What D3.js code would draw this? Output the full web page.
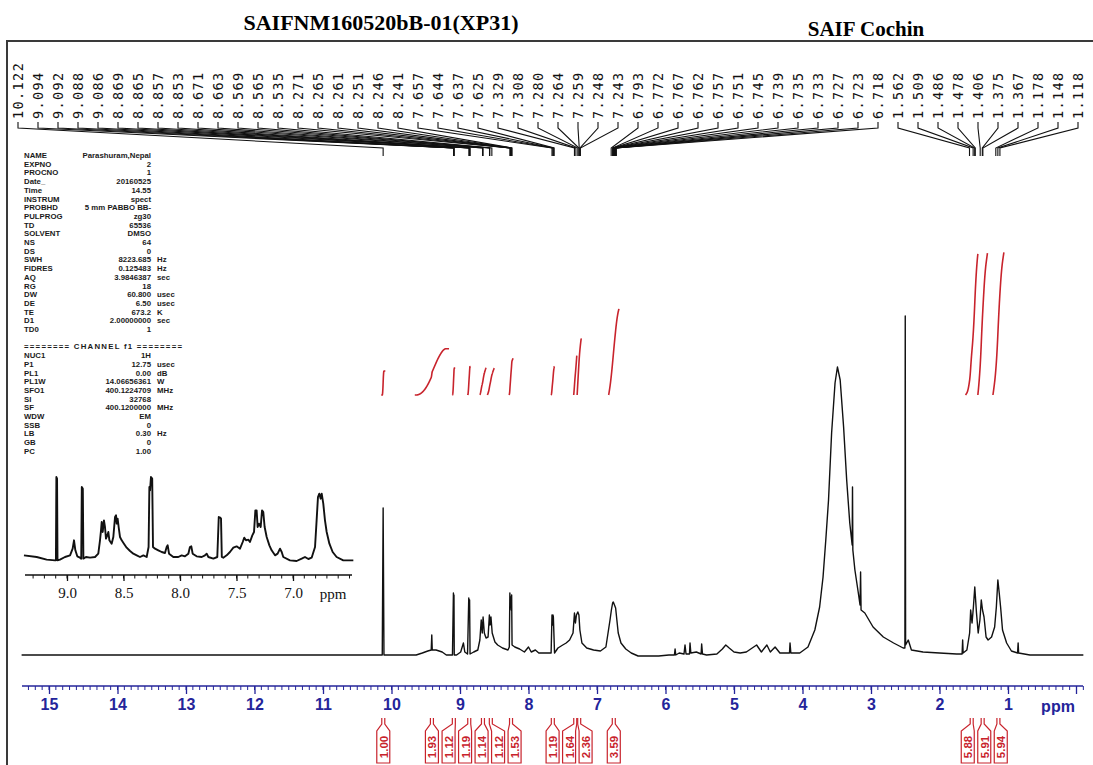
<!DOCTYPE html>
<html><head><meta charset="utf-8">
<script src="https://cdn.jsdelivr.net/npm/d3@7"></script>
<style>body{margin:0;background:#fff}svg{display:block}</style>
</head><body><svg id="c" width="1093" height="765"></svg>
<script>
// ---------------- DATA ----------------
const titleLeft = "SAIFNM160520bB-01(XP31)";
const titleRight = "SAIF Cochin";
const axisTicks = [15,14,13,12,11,10,9,8,7,6,5,4,3,2,1];
const insetTicks = [9.0, 8.5, 8.0, 7.5, 7.0];
const peakLabels = [10.122,9.094,9.092,9.088,9.086,8.869,8.865,8.857,8.853,8.671,8.663,8.569,8.565,8.535,
  8.271,8.265,8.261,8.251,8.246,8.241,7.657,7.644,7.637,7.625,7.329,7.308,7.280,7.264,7.259,7.248,7.243,
  6.793,6.772,6.767,6.762,6.757,6.751,6.745,6.739,6.735,6.733,6.727,6.723,6.718,
  1.562,1.509,1.486,1.478,1.406,1.375,1.367,1.178,1.148,1.118];
const paramKeys = ["NAME","EXPNO","PROCNO","Date_","Time","INSTRUM","PROBHD","PULPROG","TD","SOLVENT","NS","DS",
  "SWH","FIDRES","AQ","RG","DW","DE","TE","D1","TD0"];
const paramValues = ["Parashuram,Nepal","2","1","20160525","14.55","spect","5 mm PABBO BB-","zg30","65536","DMSO","64","0",
  "8223.685","0.125483","3.9846387","18","60.800","6.50","673.2","2.00000000","1"];
const paramUnits = ["","","","","","","","","","","","","Hz","Hz","sec","","usec","usec","K","sec",""];
const channelTitle = "======== CHANNEL f1 ========";
const channelKeys = ["NUC1","P1","PL1","PL1W","SFO1","SI","SF","WDW","SSB","LB","GB","PC"];
const channelValues = ["1H","12.75","0.00","14.06656361","400.1224709","32768","400.1200000","EM","0","0.30","0","1.00"];
const channelUnits = ["","usec","dB","W","MHz","","MHz","","","Hz","",""];
// main spectrum: [ppm, intensity]
const spectrum = [[15.40,0],[10.16,0],[10.135,0],[10.122,147],[10.11,0],[9.64,0],[9.55,2],[9.47,4],[9.42,5],[9.412,20],[9.405,5],
 [9.35,5],[9.26,3],[9.20,0],[9.11,0],[9.096,62],[9.092,50],[9.088,60],[9.084,0],[9.05,0],[8.99,3],[8.95,12],[8.93,3],[8.89,1],
 [8.872,57],[8.866,45],[8.86,55],[8.853,1],[8.80,3],[8.74,5],[8.71,15],[8.69,35],[8.675,22],[8.663,38],[8.645,22],[8.62,17],
 [8.59,18],[8.571,40],[8.562,30],[8.548,38],[8.53,22],[8.49,13],[8.45,10],[8.38,7],[8.30,5],[8.28,8],[8.272,62],[8.266,50],
 [8.26,58],[8.252,45],[8.246,60],[8.24,10],[8.20,8],[8.13,6],[8.06,3],[8.00,8],[7.96,3],[7.90,5],[7.85,2],[7.75,2],[7.67,2],
 [7.657,40],[7.65,30],[7.643,40],[7.637,38],[7.62,2],[7.57,7],[7.50,10],[7.45,12],[7.40,15],[7.35,22],[7.329,42],[7.315,32],
 [7.30,40],[7.28,43],[7.264,40],[7.25,25],[7.22,12],[7.15,7],[7.05,5],[6.95,4],[6.87,8],[6.81,35],[6.79,45],[6.772,52],
 [6.762,53],[6.745,50],[6.728,47],[6.71,35],[6.69,22],[6.65,12],[6.58,6],[6.50,2],[6.40,-1],[6.10,-1],[5.95,0],[5.87,0],
 [5.86,6],[5.85,0],[5.80,2],[5.73,1],[5.715,10],[5.70,1],[5.65,1],[5.642,12],[5.63,2],[5.55,3],[5.48,1],[5.472,11],[5.46,1],
 [5.40,0],[5.25,1],[5.17,6],[5.12,10],[5.07,7],[5.00,3],[4.91,2],[4.82,3],[4.67,10],[4.60,3],[4.52,10],[4.47,3],[4.40,8],
 [4.33,2],[4.19,2],[4.182,12],[4.17,2],[4.04,2],[3.92,8],[3.82,25],[3.75,48],[3.70,78],[3.66,115],[3.62,155],[3.575,222],
 [3.525,272],[3.49,288],[3.45,275],[3.40,228],[3.355,175],[3.31,132],[3.275,110],[3.27,168],[3.265,105],[3.235,85],[3.185,62],
 [3.16,50],[3.152,83],[3.145,45],[3.09,42],[2.97,28],[2.82,18],[2.67,12],[2.53,7],[2.505,7],[2.50,339],[2.495,10],[2.456,15],
 [2.41,5],[2.24,3],[2.00,2],[1.75,1],[1.67,1],[1.662,15],[1.655,2],[1.60,5],[1.56,22],[1.545,45],[1.525,32],[1.505,48],
 [1.485,68],[1.46,42],[1.435,22],[1.41,35],[1.39,55],[1.372,45],[1.35,38],[1.32,18],[1.29,15],[1.24,18],[1.195,28],[1.17,48],
 [1.148,75],[1.128,62],[1.108,48],[1.08,25],[1.02,12],[0.95,4],[0.86,2],[0.852,12],[0.845,2],[0.68,0],[-0.10,0]];
// inset expansion: [ppm, intensity]
const insetSpectrum = [[9.381,5],[9.268,0],[9.180,-8],[9.106,-10],[9.098,-10],[9.094,240],[9.088,235],[9.084,-10],[9.062,-8],
 [9.018,0],[8.973,5],[8.950,25],[8.938,50],[8.926,20],[8.909,2],[8.885,-2],[8.874,-5],[8.869,210],[8.860,205],[8.855,-5],
 [8.832,0],[8.796,-2],[8.752,0],[8.723,10],[8.708,50],[8.699,80],[8.693,105],[8.684,75],[8.673,110],[8.664,90],[8.655,55],
 [8.643,65],[8.634,75],[8.625,50],[8.605,40],[8.590,60],[8.575,120],[8.566,125],[8.560,100],[8.552,115],[8.543,90],[8.531,60],
 [8.516,50],[8.496,40],[8.472,28],[8.442,18],[8.413,10],[8.383,5],[8.354,0],[8.324,5],[8.295,0],[8.278,30],[8.271,210],
 [8.265,200],[8.257,240],[8.246,235],[8.239,30],[8.221,25],[8.192,20],[8.162,15],[8.133,12],[8.118,30],[8.109,35],[8.097,10],
 [8.059,0],[8.015,0],[7.985,5],[7.956,2],[7.926,10],[7.912,30],[7.900,32],[7.888,10],[7.853,2],[7.808,0],[7.779,5],[7.764,10],
 [7.749,0],[7.705,-5],[7.670,0],[7.657,120],[7.644,118],[7.637,115],[7.630,0],[7.617,-2],[7.587,5],[7.558,15],[7.528,28],
 [7.499,32],[7.469,25],[7.445,45],[7.431,58],[7.416,50],[7.395,52],[7.381,45],[7.360,65],[7.345,75],[7.333,140],[7.322,140],
 [7.313,90],[7.301,100],[7.286,90],[7.274,140],[7.263,135],[7.251,90],[7.233,60],[7.209,35],[7.189,20],[7.159,5],[7.136,10],
 [7.115,25],[7.100,15],[7.086,0],[7.027,-10],[6.968,-12],[6.923,-5],[6.894,0],[6.864,-6],[6.835,-2],[6.805,30],[6.791,110],
 [6.779,180],[6.767,190],[6.755,175],[6.746,190],[6.732,160],[6.717,110],[6.702,75],[6.678,40],[6.649,15],[6.614,0],
 [6.555,-10],[6.466,-10]];
const integralStart = [10.15,9.66,9.11,8.885,8.71,8.60,8.285,7.67,7.34,7.29,6.83,1.62,1.44,1.22];
const integralEnd   = [10.09,9.16,9.07,8.845,8.62,8.50,8.225,7.62,7.295,7.23,6.68,1.44,1.30,1.06];
const integralValues = [1.00,1.93,1.12,1.19,1.14,1.12,1.53,1.19,1.64,2.36,3.59,5.88,5.91,5.94];

// ---------------- DRAWING ----------------
const svg = d3.select("#c");
const W = 1093, H = 765;
svg.append("rect").attr("width", W).attr("height", H).attr("fill", "#fff");

// frame
svg.append("path").attr("d", "M7,765V41H1093").attr("fill","none").attr("stroke","#3a3a3a").attr("stroke-width",2);

// titles
svg.append("text").attr("x", 381).attr("y", 30).attr("text-anchor","middle")
  .attr("font-family","Liberation Serif").attr("font-weight","bold").attr("font-size",22).text(titleLeft);
svg.append("text").attr("x", 866).attr("y", 36).attr("text-anchor","middle")
  .attr("font-family","Liberation Serif").attr("font-weight","bold").attr("font-size",21).text(titleRight);

// scales
const x = d3.scaleLinear().domain([15, 1]).range([49, 1008]);
const y = d3.scaleLinear().domain([0, 339]).range([655, 316]);
const blue = "#24249a";

// main axis
const axisY = 686;
const axisG = svg.append("g").attr("transform", `translate(0,${axisY})`);
const axis = d3.axisBottom(x).tickValues(axisTicks).tickSize(8).tickPadding(5).tickFormat(d3.format("d"));
axisG.call(axis);
axisG.select(".domain").attr("d", `M22,0H1083`).attr("stroke", blue).attr("stroke-width",1.5);
axisG.selectAll(".tick line").attr("stroke", blue).attr("stroke-width",1.3);
axisG.selectAll(".tick text").attr("fill", blue).attr("font-family","Liberation Sans").attr("font-weight","bold").attr("font-size",16);
const minor = d3.range(153, -2, -1).map(d => d/10);
axisG.selectAll(".minor").data(minor).enter().append("line")
  .attr("x1", d=>x(d)).attr("x2", d=>x(d)).attr("y1",0).attr("y2",4).attr("stroke",blue).attr("stroke-width",1);
axisG.append("line").attr("x1",x(0)).attr("x2",x(0)).attr("y1",0).attr("y2",8).attr("stroke",blue).attr("stroke-width",1.3);
svg.append("text").attr("x",1058).attr("y",712).attr("text-anchor","middle").attr("fill",blue)
  .attr("font-family","Liberation Sans").attr("font-weight","bold").attr("font-size",16).text("ppm");

// main spectrum
const line = d3.line().x(d=>x(d[0])).y(d=>y(d[1]));
svg.append("path").datum(spectrum).attr("d", line).attr("fill","none").attr("stroke","#111").attr("stroke-width",1.4)
  .attr("stroke-linejoin","round");

// integrals
function interp(p){
  for (let i=0;i<spectrum.length-1;i++){
    const a=spectrum[i], b=spectrum[i+1];
    if (p<=a[0] && p>=b[0]) { const t=(a[0]-p)/(a[0]-b[0]||1); return a[1]+(b[1]-a[1])*t; }
  }
  return 0;
}
const intBase = 395, intUnit = 24;
const red = "#c8232c";
integralValues.forEach((v,k)=>{
  const a = integralStart[k], b = integralEnd[k];
  const n = 200; let cum = 0; const pts=[[a,0]];
  let prev = Math.max(0, interp(a));
  for (let i=1;i<=n;i++){
    const p = a + (b-a)*i/n; const h = Math.max(0, interp(p));
    cum += (prev+h)/2; prev = h; pts.push([p,cum]);
  }
  const tot = cum || 1;
  svg.append("path").datum(pts)
    .attr("d", d3.line().x(d=>x(d[0])).y(d=>intBase - d[1]/tot*v*intUnit).curve(d3.curveBasis))
    .attr("fill","none").attr("stroke",red).attr("stroke-width",1.6);
});

// integral labels (bottom)
const centers = integralValues.map((v,k)=>x((integralStart[k]+integralEnd[k])/2));
const bw = 16.5;
let groups = centers.map((c,k)=>({idx:[k], ideal:[c]}));
function place(g){ const m=d3.mean(g.ideal); const n=g.idx.length; return g.idx.map((_,i)=>m+(i-(n-1)/2)*bw); }
let changed = true;
while(changed){
  changed=false;
  for (let i=0;i<groups.length-1;i++){
    const pa = place(groups[i]), pb = place(groups[i+1]);
    if (pb[0]-pa[pa.length-1] < bw){
      groups[i] = {idx: groups[i].idx.concat(groups[i+1].idx), ideal: groups[i].ideal.concat(groups[i+1].ideal)};
      groups.splice(i+1,1); changed=true; break;
    }
  }
}
const labelX = [];
groups.forEach(g=>{ const p=place(g); g.idx.forEach((k,i)=>labelX[k]=p[i]); });
integralValues.forEach((v,k)=>{
  const cx = centers[k], lx = labelX[k];
  const hw = 6.5;
  svg.append("path")
    .attr("d", `M${cx-1.5},718V724L${lx-hw},731V763H${lx+hw}V731L${cx+1.5},724V718`)
    .attr("fill","#fff").attr("stroke",red).attr("stroke-width",1.2);
  svg.append("text").attr("transform",`translate(${lx+0.5},747) rotate(-90)`)
    .attr("text-anchor","middle").attr("dominant-baseline","central")
    .attr("fill",red).attr("font-family","Liberation Sans").attr("font-weight","bold").attr("font-size",11.5)
    .text(d3.format(".2f")(v));
});

// peak labels (top)
const lx0 = 18, ldx = 20;
const peakG = svg.append("g");
peakLabels.forEach((p,i)=>{
  const tx = lx0 + i*ldx, px = x(p);
  peakG.append("text").attr("transform",`translate(${tx},119) rotate(-90)`)
    .attr("dominant-baseline","central").attr("font-family","DejaVu Sans Mono").attr("font-size",13.5)
    .attr("letter-spacing",1.4).attr("fill","#111").text(d3.format(".3f")(p));
  peakG.append("path").attr("d",`M${tx},122V128L${px},148V156`).attr("fill","none").attr("stroke","#111").attr("stroke-width",1.1);
});

// parameter block
const pg = svg.append("g").attr("font-family","Liberation Sans").attr("font-weight","bold").attr("font-size",7.8).attr("fill","#1a1a1a");
const ls = 8.7, y0 = 158, kx = 24, vx = 151, ux = 157;
paramKeys.forEach((k,i)=>{
  const yy = y0 + i*ls;
  pg.append("text").attr("x",kx).attr("y",yy).text(k);
  pg.append("text").attr("x",vx).attr("y",yy).attr("text-anchor","end").text(paramValues[i]);
  if (paramUnits[i]) pg.append("text").attr("x",ux).attr("y",yy).text(paramUnits[i]);
});
const yc = y0 + (paramKeys.length+1)*ls;
pg.append("text").attr("x",kx).attr("y",yc).attr("textLength",158).attr("lengthAdjust","spacing").text(channelTitle);
channelKeys.forEach((k,i)=>{
  const yy = yc + (i+1)*ls;
  pg.append("text").attr("x",kx).attr("y",yy).text(k);
  pg.append("text").attr("x",vx).attr("y",yy).attr("text-anchor","end").text(channelValues[i]);
  if (channelUnits[i]) pg.append("text").attr("x",ux).attr("y",yy).text(channelUnits[i]);
});

// inset
const ix = d3.scaleLinear().domain([9.0, 7.0]).range([67, 293]);
const iy = d3.scaleLinear().domain([0, 240]).range([557, 477]);
svg.append("path").datum(insetSpectrum).attr("d", d3.line().x(d=>ix(d[0])).y(d=>iy(d[1])))
  .attr("fill","none").attr("stroke","#111").attr("stroke-width",1.9).attr("stroke-linejoin","round");
const iaY = 575;
const iaxis = svg.append("g").attr("transform",`translate(0,${iaY})`);
iaxis.call(d3.axisBottom(ix).tickValues(insetTicks).tickSize(6).tickPadding(6).tickFormat(d3.format(".1f")));
iaxis.select(".domain").attr("d","M25,0H352").attr("stroke","#111").attr("stroke-width",1.5);
iaxis.selectAll(".tick line").attr("stroke","#111").attr("stroke-width",1.3);
iaxis.selectAll(".tick text").attr("fill","#111").attr("font-family","Liberation Serif").attr("font-size",15);
const iminor = d3.range(93, 64, -1).map(d=>d/10);
iaxis.selectAll(".im").data(iminor).enter().append("line").attr("x1",d=>ix(d)).attr("x2",d=>ix(d))
  .attr("y1",0).attr("y2",3.5).attr("stroke","#111").attr("stroke-width",1);
svg.append("text").attr("x",333).attr("y",599).attr("text-anchor","middle").attr("font-family","Liberation Serif")
  .attr("font-size",15).attr("fill","#111").text("ppm");
</script></body></html>
